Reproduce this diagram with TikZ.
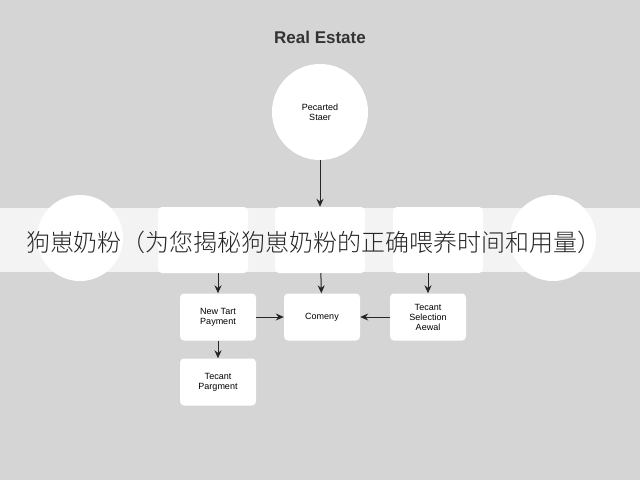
\documentclass[tikz,border=0pt]{standalone}
\usepackage{fontspec}
\setmainfont{Liberation Sans}
\newfontfamily\cjk{Noto Sans CJK SC}[UprightFont=* Light]
\usetikzlibrary{arrows.meta}
\begin{document}
\begin{tikzpicture}[x=1pt,y=-1pt,
  box/.style={draw=none,fill=white,rounded corners=4pt,minimum width=76pt,minimum height=47pt,align=center,font=\fontsize{9}{10}\selectfont},
  bigbox/.style={box,minimum width=90pt,minimum height=66pt},
  circ/.style={circle,fill=white,minimum size=86pt},
  arr/.style={-{Stealth[length=8pt,width=7pt]},draw=black!85,line width=1pt}]
\fill[gray!33] (0,0) rectangle (640,480);
\useasboundingbox (0,0) rectangle (640,480);
\node[font=\bfseries\fontsize{17}{20}\selectfont,text=black!80] (title) at (320,37) {Real Estate};
\node[circ,minimum size=96pt,font=\fontsize{9}{10}\selectfont,align=center] (top) at (320,112) {Pecarted\\Staer};
\node[circ] (cl) at (80,238) {};
\node[circ] (cr) at (553,238) {};
\node[bigbox] (b1) at (203,240) {};
\node[bigbox] (b2) at (320,240) {};
\node[bigbox] (b3) at (438,240) {};
\node[box] (n1) at (218,317) {New Tart\\Payment};
\node[box] (n2) at (322,317) {Comeny};
\node[box] (n3) at (428,317) {Tecant\\Selection\\Aewal};
\node[box] (n4) at (218,382) {Tecant\\Pargment};
\draw[arr] (top) -- (b2);
\draw[arr] (b1.south -| n1) -- (n1);
\draw[arr] (b2) -- (n2);
\draw[arr] (b3.south -| n3) -- (n3);
\draw[arr] (n1) -- (n2);
\draw[arr] (n3) -- (n2);
\draw[arr] (n1) -- (n4);
\fill[white,opacity=0.72] (0,208) rectangle (640,272);
\node[font=\cjk\fontsize{24}{28}\selectfont,text=black!85] (banner) at (314,242) {狗崽奶粉（为您揭秘狗崽奶粉的正确喂养时间和用量）};
\end{tikzpicture}
\end{document}
